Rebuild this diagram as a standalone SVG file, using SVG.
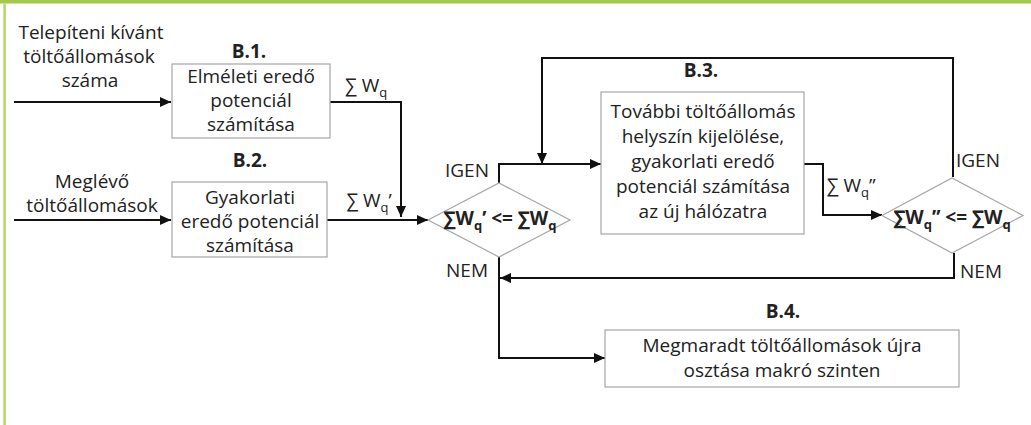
<svg xmlns="http://www.w3.org/2000/svg" width="1031" height="425" viewBox="0 0 1031 425">
<style>
text{font-family:"Open Sans","Liberation Sans",sans-serif;font-size:19px;fill:#222;text-anchor:middle}
.b{font-weight:bold}
.box{fill:#fff;stroke:#a6a6a6;stroke-width:1.2}
.con{fill:none;stroke:#111;stroke-width:2}
.sub{font-size:13px}
</style>
<defs>
<marker id="arr" markerUnits="userSpaceOnUse" markerWidth="12" markerHeight="10" refX="11" refY="5" orient="auto">
<path d="M0,0 L11,5 L0,10 z" fill="#111"/>
</marker>
</defs>
<rect x="0" y="0" width="1031" height="425" fill="#fff"/>
<rect x="0" y="0" width="1031" height="3.5" fill="#a2c948"/>
<rect x="3.3" y="3.5" width="2.6" height="421.5" fill="#b6d86c"/>

<g id="connectors">
<path class="con" d="M14,102 H171" marker-end="url(#arr)"/>
<path class="con" d="M14,220 H171" marker-end="url(#arr)"/>
<path class="con" d="M330,102 H401 V217" marker-end="url(#arr)"/>
<path class="con" d="M327,220 H428" marker-end="url(#arr)"/>
<path class="con" d="M499,183 V164 H601" marker-end="url(#arr)"/>
<path class="con" d="M953,177 V58 H542 V164" marker-end="url(#arr)"/>
<path class="con" d="M804,164 H823 V215 H882" marker-end="url(#arr)"/>
<path class="con" d="M954,253 V278 H500" marker-end="url(#arr)"/>
<path class="con" d="M499,257 V358 H605" marker-end="url(#arr)"/>
</g>

<g id="input1">
<text x="91" y="39">Telepíteni kívánt</text>
<text x="89" y="63">töltőállomások</text>
<text x="90" y="87">száma</text>
</g>
<g id="input2">
<text x="92" y="188">Meglévő</text>
<text x="92" y="212">töltőállomások</text>
</g>

<g id="B1">
<text class="b" x="249" y="58">B.1.</text>
<rect class="box" x="172" y="64" width="158" height="74"/>
<text x="251" y="83">Elméleti eredő</text>
<text x="251" y="107">potenciál</text>
<text x="251" y="131">számítása</text>
</g>

<g id="B2">
<text class="b" x="250" y="167">B.2.</text>
<rect class="box" x="172" y="182" width="155" height="75"/>
<text x="250" y="204">Gyakorlati</text>
<text x="250" y="228">eredő potenciál</text>
<text x="250" y="252">számítása</text>
</g>

<g id="labels-sum">
<text x="366" y="92">∑ W<tspan class="sub" dy="5">q</tspan></text>
<text x="369" y="207">∑ W<tspan class="sub" dy="5">q</tspan><tspan dy="-5">’</tspan></text>
<text x="851" y="192">∑ W<tspan class="sub" dy="5">q</tspan><tspan dy="-5">”</tspan></text>
</g>

<g id="D1">
<polygon class="box" points="428,220 499,183 570,220 499,257"/>
<text class="b" x="500" y="225">∑W<tspan class="sub" dy="5">q</tspan><tspan dy="-5">’ &lt;= ∑W</tspan><tspan class="sub" dy="5">q</tspan></text>
<text x="467" y="177">IGEN</text>
<text x="467" y="277">NEM</text>
</g>

<g id="B3">
<text class="b" x="701" y="77">B.3.</text>
<rect class="box" x="601" y="92" width="203" height="142"/>
<text x="703" y="118">További töltőállomás</text>
<text x="703" y="143">helyszín kijelölése,</text>
<text x="703" y="168">gyakorlati eredő</text>
<text x="703" y="193">potenciál számítása</text>
<text x="703" y="218">az új hálózatra</text>
</g>

<g id="D2">
<polygon class="box" points="882,215.5 952,178 1023,215.5 952,253"/>
<text class="b" x="952" y="224">∑W<tspan class="sub" dy="5">q</tspan><tspan dy="-5">” &lt;= ∑W</tspan><tspan class="sub" dy="5">q</tspan></text>
<text x="978" y="167">IGEN</text>
<text x="981" y="278">NEM</text>
</g>

<g id="B4">
<text class="b" x="783" y="318">B.4.</text>
<rect class="box" x="605" y="330" width="354" height="57"/>
<text x="782" y="352">Megmaradt töltőállomások újra</text>
<text x="782" y="377">osztása makró szinten</text>
</g>
</svg>
